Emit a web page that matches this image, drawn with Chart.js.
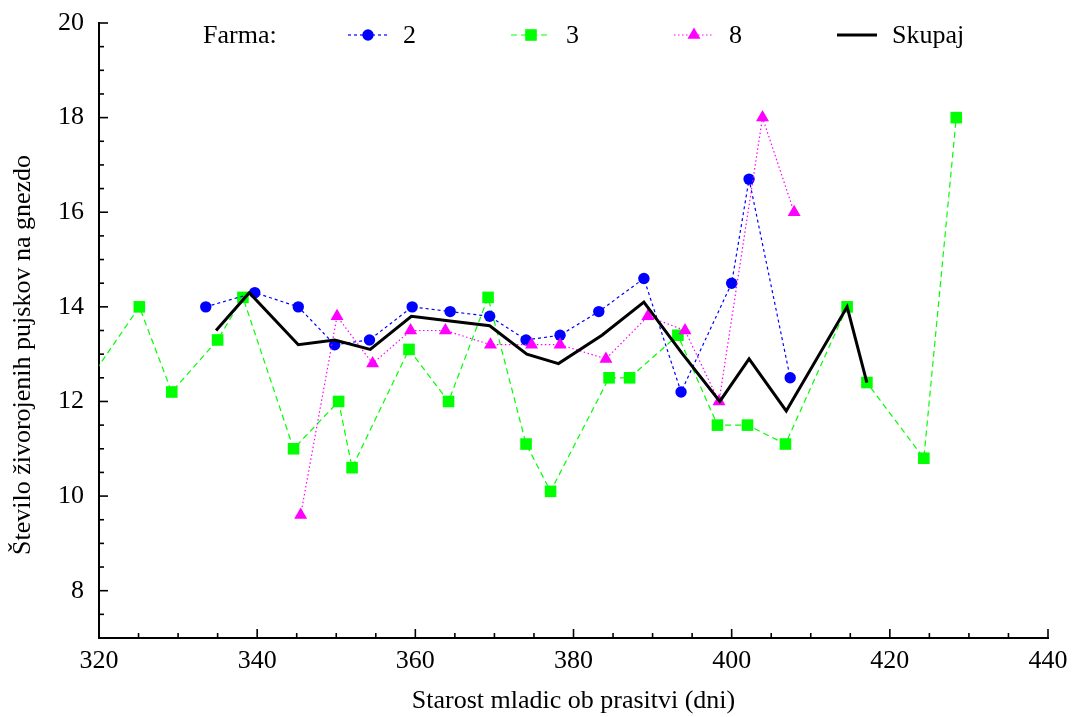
<!DOCTYPE html>
<html>
<head>
<meta charset="utf-8">
<script src="https://cdn.jsdelivr.net/npm/chart.js@4.4.1/dist/chart.umd.min.js"></script>
<style>
  html, body { margin: 0; padding: 0; background: #fff; }
  #wrap { width: 1073px; height: 717px; position: relative; }
</style>
</head>
<body>
<div id="wrap"><canvas id="c" width="1073" height="717"></canvas></div>
<script>
// ---- data ----
const legendTitle = 'Farma:';
const seriesLabels = ['2', '3', '8', 'Skupaj'];
const xAxisTitle = 'Starost mladic ob prasitvi (dni)';
const yAxisTitle = 'Število živorojenih pujskov na gnezdo';
const xMajorTicks = [320, 340, 360, 380, 400, 420, 440];
const yMajorTicks = [8, 10, 12, 14, 16, 18, 20];

const farm2X = [333.5, 339.7, 345.2, 349.8, 354.2, 359.6, 364.4, 369.4, 374.0, 378.3, 383.2, 388.9, 393.6, 400.0, 402.2, 407.4];
const farm2Y = [14.0, 14.3, 14.0, 13.2, 13.3, 14.0, 13.9, 13.8, 13.3, 13.4, 13.9, 14.6, 12.2, 14.5, 16.7, 12.5];

const farm3X = [317.5, 325.1, 329.2, 335.0, 338.2, 344.6, 350.3, 352.0, 359.2, 364.2, 369.2, 374.0, 377.1, 384.5, 387.1, 393.2, 398.2, 402.0, 406.8, 414.6, 417.1, 424.3, 428.4];
const farm3Y = [12.15, 14.0, 12.2, 13.3, 14.2, 11.0, 12.0, 10.6, 13.1, 12.0, 14.2, 11.1, 10.1, 12.5, 12.5, 13.4, 11.5, 11.5, 11.1, 14.0, 12.4, 10.8, 18.0];

const farm8X = [345.5, 350.1, 354.6, 359.4, 363.8, 369.5, 374.7, 378.3, 384.1, 389.4, 394.1, 398.4, 403.9, 407.9];
const farm8Y = [9.6, 13.8, 12.8, 13.5, 13.5, 13.2, 13.2, 13.2, 12.9, 13.8, 13.5, 12.0, 18.0, 16.0];

const totalX = [334.8, 339.0, 345.2, 349.8, 354.3, 359.5, 364.4, 369.4, 374.1, 378.1, 383.6, 388.9, 393.8, 398.5, 402.2, 406.9, 414.6, 417.1];
const totalY = [13.5, 14.3, 13.2, 13.3, 13.1, 13.8, 13.7, 13.6, 13.0, 12.8, 13.4, 14.1, 13.0, 12.0, 12.9, 11.8, 14.0, 12.4];

// ---- chart ----
const FONT = '"Liberation Serif", "Times New Roman", serif';
const pts = (xs, ys) => xs.map((x, i) => ({ x: x, y: ys[i] }));

const inwardTicks = {
  id: 'inwardTicks',
  afterDraw(chart) {
    const ctx = chart.ctx;
    const xs = chart.scales.x, ys = chart.scales.y;
    const a = chart.chartArea;
    ctx.save();
    ctx.strokeStyle = '#000';
    ctx.lineWidth = 1.6;
    xs.ticks.forEach(t => {
      const px = xs.getPixelForValue(t.value);
      const len = xMajorTicks.includes(t.value) ? 9 : 5;
      ctx.beginPath();
      ctx.moveTo(px, a.bottom);
      ctx.lineTo(px, a.bottom - len);
      ctx.stroke();
    });
    ys.ticks.forEach(t => {
      const py = ys.getPixelForValue(t.value);
      const len = yMajorTicks.includes(t.value) ? 9 : 5;
      ctx.beginPath();
      ctx.moveTo(a.left, py);
      ctx.lineTo(a.left + len, py);
      ctx.stroke();
    });
    // y axis title (placed as in the reference, slightly below the centre)
    ctx.save();
    ctx.translate(23, 355);
    ctx.rotate(-Math.PI / 2);
    ctx.font = '26px ' + FONT;
    ctx.fillStyle = '#000';
    ctx.textAlign = 'center';
    ctx.textBaseline = 'middle';
    ctx.fillText(yAxisTitle, 0, 0);
    ctx.restore();
    ctx.restore();
  }
};

function drawMarker(ctx, style, r, x, y) {
  ctx.beginPath();
  if (style === 'circle') {
    ctx.arc(x, y, r, 0, Math.PI * 2);
  } else if (style === 'rect') {
    const s = Math.SQRT1_2 * r;
    ctx.rect(x - s, y - s, 2 * s, 2 * s);
  } else if (style === 'triangle') {
    ctx.moveTo(x, y - r);
    ctx.lineTo(x + r * 0.866, y + r * 0.5);
    ctx.lineTo(x - r * 0.866, y + r * 0.5);
    ctx.closePath();
  }
  ctx.fill();
}

const customLegend = {
  id: 'customLegend',
  afterDraw(chart) {
    const ctx = chart.ctx;
    const y = 35;
    const starts = [348, 511, 674, 837];
    ctx.save();
    ctx.font = '26px ' + FONT;
    ctx.fillStyle = '#000';
    ctx.textBaseline = 'middle';
    ctx.textAlign = 'left';
    ctx.fillText(legendTitle, 203, y + 1);
    chart.data.datasets.forEach((ds, i) => {
      const x0 = starts[i];
      ctx.save();
      ctx.strokeStyle = ds.borderColor;
      ctx.lineWidth = ds.borderWidth;
      ctx.setLineDash(ds.borderDash || []);
      ctx.beginPath();
      ctx.moveTo(x0, y);
      ctx.lineTo(x0 + 40, y);
      ctx.stroke();
      ctx.restore();
      if (ds.pointRadius > 0) {
        ctx.fillStyle = ds.pointBackgroundColor;
        drawMarker(ctx, ds.pointStyle, ds.pointRadius, x0 + 20, y);
      }
      ctx.fillStyle = '#000';
      ctx.fillText(ds.label, x0 + 55, y + 1);
    });
    ctx.restore();
  }
};

new Chart(document.getElementById('c'), {
  type: 'line',
  data: {
    datasets: [
      {
        label: seriesLabels[0], data: pts(farm2X, farm2Y),
        borderColor: '#0000ff', backgroundColor: '#0000ff', borderWidth: 1.2, borderDash: [3, 3],
        pointStyle: 'circle', pointRadius: 5.7, pointBackgroundColor: '#0000ff', pointBorderWidth: 0,
        tension: 0, order: 3
      },
      {
        label: seriesLabels[1], data: pts(farm3X, farm3Y),
        borderColor: '#00ff00', backgroundColor: '#00ff00', borderWidth: 1.2, borderDash: [6, 4],
        pointStyle: 'rect', pointRadius: 8.2, pointBackgroundColor: '#00ff00', pointBorderWidth: 0,
        tension: 0, order: 4
      },
      {
        label: seriesLabels[2], data: pts(farm8X, farm8Y),
        borderColor: '#ff00ff', backgroundColor: '#ff00ff', borderWidth: 1.2, borderDash: [1.5, 2.5],
        pointStyle: 'triangle', pointRadius: 7.5, pointBackgroundColor: '#ff00ff', pointBorderWidth: 0,
        tension: 0, order: 2
      },
      {
        label: seriesLabels[3], data: pts(totalX, totalY),
        borderColor: '#000000', backgroundColor: '#000000', borderWidth: 3,
        pointRadius: 0, tension: 0, order: 1
      }
    ]
  },
  options: {
    responsive: false,
    animation: false,
    layout: { padding: { top: 23, right: 25, left: 0, bottom: 0 } },
    plugins: { legend: { display: false }, tooltip: { enabled: false } },
    scales: {
      x: {
        type: 'linear', min: 320, max: 440,
        afterFit: s => { s.height = 79; s.paddingLeft = 0; s.paddingRight = 0; },
        border: { display: true, color: '#000', width: 2 },
        grid: { display: true, drawOnChartArea: false, drawTicks: false },
        ticks: {
          stepSize: 5, autoSkip: false, maxRotation: 0, padding: 8, color: '#000',
          font: { family: FONT, size: 26 },
          callback: v => xMajorTicks.includes(v) ? String(v) : ''
        },
        title: { display: true, text: xAxisTitle, color: '#000', font: { family: FONT, size: 26 }, padding: { top: 0, bottom: 0 } }
      },
      y: {
        type: 'linear', min: 7, max: 20,
        afterFit: s => { s.width = 99; s.paddingTop = 0; s.paddingBottom = 0; },
        border: { display: true, color: '#000', width: 2 },
        grid: { display: true, drawOnChartArea: false, drawTicks: false },
        ticks: {
          stepSize: 0.5, autoSkip: false, padding: 15, color: '#000',
          font: { family: FONT, size: 26 },
          callback: v => yMajorTicks.includes(v) ? String(v) : ''
        },
        title: { display: false }
      }
    }
  },
  plugins: [inwardTicks, customLegend]
});
</script>
</body>
</html>
